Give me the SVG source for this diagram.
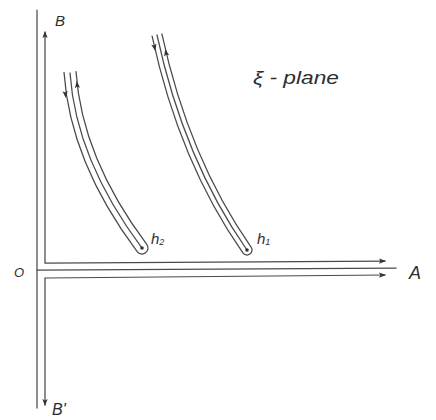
<svg xmlns="http://www.w3.org/2000/svg" width="436" height="420" viewBox="0 0 436 420">
<style>
.ln{fill:none;stroke:#4a4a4a;stroke-width:1.25;stroke-linecap:round}
.ah{fill:#333}
.t{font-family:"Liberation Sans",Arial,sans-serif;font-style:italic;fill:#2e2e2e}
</style>
<defs>
<path id="ah" d="M0,0 L-7,-2.6 L-5.5,0 L-7,2.6 Z"/>
</defs>
<rect width="436" height="420" fill="#fff"/>
<g id="axes">
<path class="ln" d="M37,10 L37,408"/>
<path class="ln" d="M37,270 L396,268"/>
<path class="ln" d="M45,32 L45,263 L385,261"/>
<path class="ln" d="M45,405 L45,278 L385,275"/>
<use href="#ah" class="ah" transform="translate(45,31) rotate(-90)"/>
<use href="#ah" class="ah" transform="translate(45,406) rotate(90)"/>
<use href="#ah" class="ah" transform="translate(386,261) rotate(-0.3)"/>
<use href="#ah" class="ah" transform="translate(386,275) rotate(-0.5)"/>
</g>
<g id="contour-h2">
<path class="ln" d="M64,72.4 Q70.1,162.2 137.2,251.6 A6,6 0 0 0 146.8,244.4 Q81.9,157.8 76,71.6"/>
<path class="ln" d="M70,73 Q76,160 142,248"/>
<circle cx="142" cy="248" r="1.8" fill="#333"/>
<use href="#ah" class="ah" transform="translate(65.8,98) rotate(84)"/>
<use href="#ah" class="ah" transform="translate(76.8,81) rotate(-95)"/>
</g>
<g id="contour-h1">
<path class="ln" d="M152.1,36.1 Q179.3,162 242.9,252.9 A5,5 0 0 0 251.1,247.1 Q188.7,158 161.9,33.9"/>
<path class="ln" d="M157,35 Q184,160 247,250"/>
<circle cx="247" cy="250" r="1.8" fill="#333"/>
<use href="#ah" class="ah" transform="translate(155.3,51) rotate(78)"/>
<use href="#ah" class="ah" transform="translate(165.2,49) rotate(-102)"/>
</g>
<g id="labels">
<text class="t" x="55" y="26" font-size="15">B</text>
<text class="t" x="253" y="84" font-size="19" textLength="86" lengthAdjust="spacingAndGlyphs">ξ - plane</text>
<text class="t" x="14" y="277" font-size="13">O</text>
<text class="t" x="409" y="279" font-size="18">A</text>
<text class="t" x="52" y="415" font-size="16">B'</text>
<text class="t" x="151" y="244" font-size="15">h<tspan font-size="9" dy="1">2</tspan></text>
<text class="t" x="257" y="244" font-size="15">h<tspan font-size="9" dy="1">1</tspan></text>
</g>
</svg>
